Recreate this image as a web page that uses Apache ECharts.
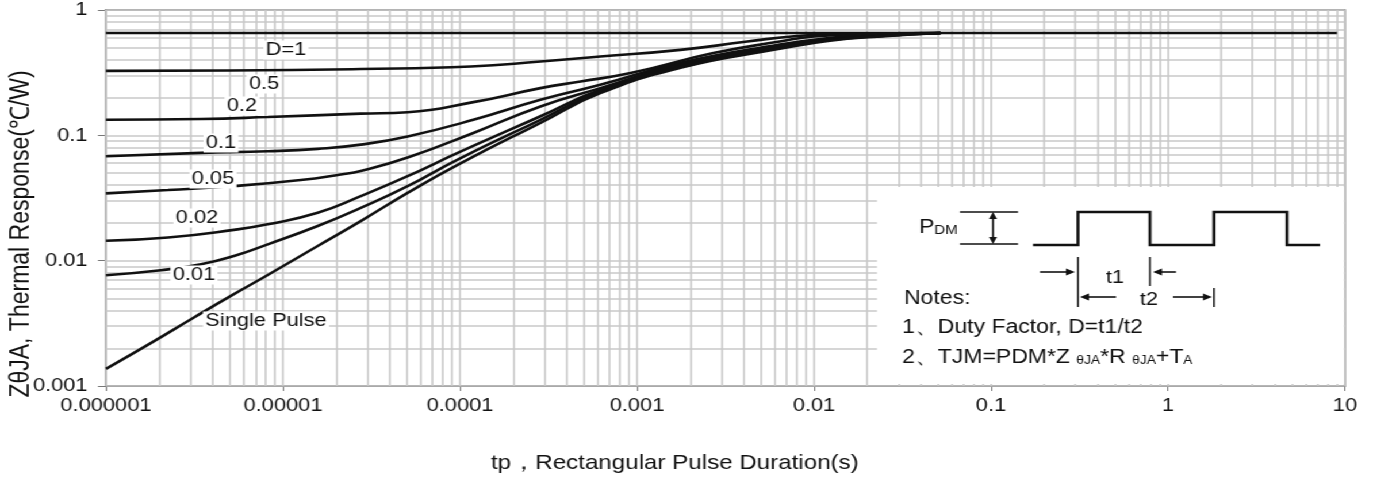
<!DOCTYPE html>
<html>
<head>
<meta charset="utf-8">
<script src="https://cdn.jsdelivr.net/npm/echarts@6/dist/echarts.min.js"></script>
<style>
html,body{margin:0;padding:0;background:#fff;overflow:hidden;}
#wrap{width:1373px;height:483px;overflow:hidden;}
#chart{height:483px;transform-origin:0 0;}
</style>
</head>
<body>
<div id="wrap"><div id="chart"></div></div>
<script>
// ---- tick labels ----
const xTickLabels = ['0.000001','0.00001','0.0001','0.001','0.01','0.1','1','10'];
const yTickLabels = ['0.001','0.01','0.1','1'];
// gridline positions (decades x multipliers)
const xDecades = [1e-6,1e-5,1e-4,1e-3,1e-2,1e-1,1];
const yDecades = [1e-3,1e-2,1e-1];
const gridMultipliers = [1,2,3,4,5,6,7,8,9];

// ---- curves: [tp (s), ZthJA] ----
const curveD1 = [[1e-6,0.656],[9,0.656]];
const curveD05 = [[1e-6,0.327],[5e-6,0.329],[2.75e-5,0.338],[1.15e-4,0.354],[2.85e-4,0.388],[6.2e-4,0.425],[1.76e-3,0.481],[4.2e-3,0.56],[8e-3,0.621],[1.6e-2,0.648],[5e-2,0.655]];
const curveD02 = [[1e-6,0.133],[3.44e-6,0.135],[8.2e-6,0.14],[2.75e-5,0.149],[5.06e-5,0.153],[1.19e-4,0.184],[2.85e-4,0.238],[4.8e-4,0.269],[9.2e-4,0.314],[2.7e-3,0.453],[6.4e-3,0.56],[1.0e-2,0.615],[2.4e-2,0.648],[5.2e-2,0.655]];
const curveD01 = [[1e-6,0.068],[3.44e-6,0.0724],[8.2e-6,0.0746],[1.57e-5,0.078],[2.75e-5,0.0843],[5.06e-5,0.098],[1.19e-4,0.133],[2.85e-4,0.192],[6.2e-4,0.253],[1.76e-3,0.379],[6.4e-3,0.53],[1.23e-2,0.6],[2.4e-2,0.645],[5.2e-2,0.655]];
const curveD005 = [[1e-6,0.0344],[2.24e-6,0.0366],[5.28e-6,0.0394],[1.26e-5,0.044],[2.12e-5,0.0487],[2.75e-5,0.0519],[5.06e-5,0.0665],[1.19e-4,0.1045],[2.85e-4,0.17],[6.2e-4,0.238],[1.76e-3,0.37],[6.4e-3,0.52],[1.23e-2,0.59],[2.4e-2,0.63],[5.2e-2,0.655]];
const curveD002 = [[1e-6,0.0144],[2.24e-6,0.0153],[5.28e-6,0.0176],[8.2e-6,0.0195],[1.57e-5,0.0241],[2.75e-5,0.0327],[5.06e-5,0.0472],[9.7e-5,0.0724],[2.85e-4,0.142],[6.2e-4,0.231],[1.76e-3,0.36],[6.4e-3,0.51],[1.23e-2,0.58],[2.4e-2,0.62],[5.2e-2,0.655]];
const curveD001 = [[1e-6,0.00765],[2.04e-6,0.00839],[3.44e-6,0.00936],[5.28e-6,0.0109],[8.2e-6,0.0135],[1.57e-5,0.0189],[2.75e-5,0.0264],[5.06e-5,0.0393],[9.7e-5,0.0641],[2.85e-4,0.133],[6.2e-4,0.224],[1.76e-3,0.352],[6.4e-3,0.5],[1.23e-2,0.577],[2.4e-2,0.62],[5.2e-2,0.655]];
const curveSingle = [[1e-6,0.00137],[1.79e-6,0.0022],[3.14e-6,0.00352],[5.28e-6,0.0054],[8.2e-6,0.00769],[1.57e-5,0.0131],[2.75e-5,0.0207],[5.06e-5,0.0347],[9.7e-5,0.0581],[2.85e-4,0.126],[6.2e-4,0.217],[1.76e-3,0.346],[6.4e-3,0.49],[1.23e-2,0.57],[2.4e-2,0.615],[5.2e-2,0.655]];

const curveNames = ['D=1','0.5','0.2','0.1','0.05','0.02','0.01','Single Pulse'];
const curves = [curveD1,curveD05,curveD02,curveD01,curveD005,curveD002,curveD001,curveSingle];

const FONT = "'Liberation Sans', Arial, sans-serif";

// the reference picture is horizontally stretched; render narrower and stretch
const S = 1.15;
const W = Math.round(1373 / S);
const el = document.getElementById('chart');
el.style.width = W + 'px';
el.style.transform = 'scaleX(' + (1373 / W) + ')';
const X = px => px * W / 1373;

const xGrid = [];
xDecades.forEach(d => gridMultipliers.forEach(m => xGrid.push(d*m)));
xGrid.push(10);
const yGrid = [];
yDecades.forEach(d => gridMultipliers.forEach(m => yGrid.push(d*m)));
yGrid.push(1);

const gridLines = xGrid.map(v => ({coords: [[v, 0.001], [v, 1]]}))
  .concat(yGrid.map(v => ({coords: [[1e-6, v], [10, v]]})));

const series = [{
  name: 'grid', type: 'lines', coordinateSystem: 'cartesian2d', z: 1, silent: true,
  polyline: false, animation: false,
  lineStyle: {color: '#c9c9c9', width: 1.6, opacity: 1, curveness: 0},
  data: gridLines
}];
curves.forEach((c, i) => {
  series.push({
    name: curveNames[i], type: 'line', data: c, z: 3,
    showSymbol: false, smooth: 0.5,
    lineStyle: {color: '#111', width: 2.6},
    animation: false
  });
});

function lbl(text, x, y, align) {
  return {type: 'text', x: X(x), y: y, z: 20,
    style: {text: text, font: '19px ' + FONT, fill: '#111',
      textAlign: align || 'center', align: align || 'center',
      textVerticalAlign: 'middle', verticalAlign: 'middle',
      backgroundColor: '#fff', padding: [0, 2]}};
}
function ln(x1,y1,x2,y2,w){
  return {type:'line', z: 32, shape:{x1:X(x1),y1:y1,x2:X(x2),y2:y2}, style:{stroke:'#111', lineWidth:w||1.5}};
}
function tri(points){
  return {type:'polygon', z: 32, shape:{points:points.map(p => [X(p[0]), p[1]])}, style:{fill:'#111'}};
}
function txt(text, x, y, size, align){
  return {type:'text', x:X(x), y:y, z:32,
    style:{text:text, font: size+'px '+FONT, fill:'#111',
      textAlign: align||'left', align: align||'left',
      textVerticalAlign:'middle', verticalAlign:'middle'}};
}

const graphics = [
  // curve labels
  lbl('D=1', 286, 50), lbl('0.5', 264, 84), lbl('0.2', 242, 106),
  lbl('0.1', 221, 143), lbl('0.05', 213, 179), lbl('0.02', 197, 218),
  lbl('0.01', 194, 275), lbl('Single Pulse', 203, 321, 'left'),
  // axis names
  {type:'text', x: X(21), y: 234, rotation: Math.PI/2, z: 20,
   style:{text:'ZθJA, Thermal Response(℃/W)', font:'23px '+FONT, fill:'#111',
     textAlign:'center', align:'center', textVerticalAlign:'middle', verticalAlign:'middle'}},
  {type:'text', x: X(491), y: 463, z: 20,
   style:{text:'tp，Rectangular Pulse Duration(s)', font:'21px '+FONT, fill:'#111',
     textAlign:'left', align:'left', textVerticalAlign:'middle', verticalAlign:'middle'}},
  // inset
  {type:'rect', z: 30, shape:{x:X(877), y:187, width:X(1344)-X(877), height:197}, style:{fill:'#fff'}},
  {type:'text', x: X(919), y: 227, z: 32,
   style:{text:'{a|P}{b|DM}', fill:'#111', textVerticalAlign:'middle', verticalAlign:'middle',
     rich:{a:{font:'20px '+FONT, fill:'#111'}, b:{font:'13px '+FONT, fill:'#111', verticalAlign:'bottom'}}}},
  ln(960,212,1018,212,1.4), ln(960,244,1018,244,1.4),
  ln(993,218,993,238,1.6), tri([[989,219],[997,219],[993,212]]), tri([[989,237],[997,237],[993,244]]),
  {type:'polyline', z: 32, shape:{points:[[1033,245],[1078,245],[1078,212],[1150,212],[1150,245],[1214,245],[1214,212],[1287,212],[1287,245],[1320,245]].map(p => [X(p[0]), p[1]])},
   style:{stroke:'#111', lineWidth:2.6, fill:null}},
  ln(1078,257,1078,307,1.5), ln(1150,257,1150,286,1.5), ln(1214,288,1214,307,1.5),
  ln(1040,272,1068,272,1.6), tri([[1066,268.5],[1066,275.5],[1075,272]]),
  ln(1155,272,1176,272,1.6), tri([[1162,268.5],[1162,275.5],[1153,272]]),
  txt('t1', 1115, 278, 19, 'center'),
  ln(1085,297,1116,297,1.6), tri([[1089,293.5],[1089,300.5],[1080,297]]),
  ln(1173,297,1205,297,1.6), tri([[1203,293.5],[1203,300.5],[1212,297]]),
  txt('t2', 1149, 300, 19, 'center'),
  txt('Notes:', 904, 298, 20),
  txt('1、Duty Factor, D=t1/t2', 902, 327, 20),
  {type:'text', x: X(902), y: 357, z: 32,
   style:{text:'{n|2、TJM=PDM*Z }{s|θJA}{n|*R }{s|θJA}{n|+T}{s|A}', fill:'#111',
     textVerticalAlign:'middle', verticalAlign:'middle',
     rich:{n:{font:'20px '+FONT, fill:'#111'}, s:{font:'12px '+FONT, fill:'#111', verticalAlign:'bottom'}}}}
];

const chart = echarts.init(el, null, {renderer:'canvas', width: W, height: 483});
chart.setOption({
  backgroundColor: '#fff',
  animation: false,
  grid: {left: X(106), right: X(28), top: 10, bottom: 97, show: true, borderColor: '#777', borderWidth: 1.5, backgroundColor: 'transparent'},
  xAxis: {
    type: 'log', logBase: 10, min: 1e-6, max: 10,
    axisLine: {show: true, lineStyle: {color: '#777', width: 1.5}},
    axisTick: {show: true, length: 5, lineStyle: {color: '#777'}},
    splitLine: {show: false}, minorTick: {show: false},
    axisLabel: {margin: 10, fontSize: 19, fontFamily: FONT, color: '#111',
      formatter: v => xTickLabels[Math.round(Math.log10(v)) + 6]}
  },
  yAxis: {
    type: 'log', logBase: 10, min: 0.001, max: 1,
    axisLine: {show: true, lineStyle: {color: '#777', width: 1.5}},
    axisTick: {show: true, length: 7, lineStyle: {color: '#777'}},
    splitLine: {show: false},
    axisLabel: {margin: 16, fontSize: 19, fontFamily: FONT, color: '#111',
      formatter: v => yTickLabels[Math.round(Math.log10(v)) + 3]}
  },
  series: series,
  graphic: graphics
});
</script>
</body>
</html>
